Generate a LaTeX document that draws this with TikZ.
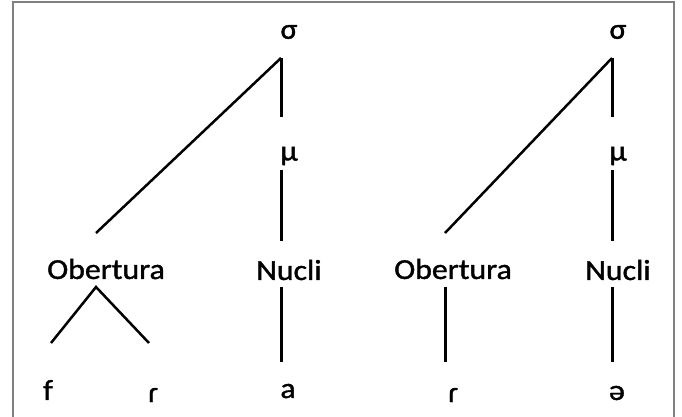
\documentclass[tikz,border=0pt]{standalone}
\usepackage{fontspec}
\setmainfont{Carlito}[FakeStretch=1.1,FakeBold=1.3]
\begin{document}
\begin{tikzpicture}[x=1bp,y=-1bp,
  lbl/.style={inner sep=0pt,font=\fontsize{29}{32}\selectfont},
  br/.style={line width=3bp,line cap=butt},
  dg/.style={line width=2.5bp,line cap=butt}]
\useasboundingbox (0,0) rectangle (682,416);
\draw[line width=1.2bp,color=gray] (13,420) -- (13,2) -- (674,2) -- (674,420);
% tree 1
\node[lbl] (s1) at (289,32) {σ};
\node[lbl] (m1) at (289,156) {μ};
\node[lbl] (o1) at (106,269) {Obertura};
\node[lbl] (n1) at (289,270) {Nucli};
\node[lbl] (f1) at (48,390) {f};
\node[lbl] (r1) at (153,395) {ɾ};
\node[lbl] (a1) at (288,391) {a};
\coordinate (s1t) at (281,58);
\coordinate (s1b) at (281,117);
\coordinate (o1t) at (96,233);
\coordinate (m1b) at (281,170);
\coordinate (n1t) at (281,241);
\coordinate (o1b) at (96,287);
\coordinate (f1t) at (51,343);
\coordinate (r1t) at (149,343);
\coordinate (n1b) at (281,287);
\coordinate (a1t) at (281,362);
\draw[br] (s1t) -- (s1b);
\draw[dg] (s1t) -- (o1t);
\draw[br] (m1b) -- (n1t);
\draw[dg] (f1t) -- (o1b) -- (r1t);
\draw[br] (n1b) -- (a1t);
% tree 2
\node[lbl] (s2) at (618,32) {σ};
\node[lbl] (m2) at (618,156) {μ};
\node[lbl] (o2) at (453,269) {Obertura};
\node[lbl] (n2) at (618,270) {Nucli};
\node[lbl] (r2) at (453,395) {ɾ};
\node[lbl] (e2) at (617,393) {ə};
\coordinate (s2t) at (612,58);
\coordinate (s2b) at (612,117);
\coordinate (o2t) at (445,233);
\coordinate (m2b) at (612,170);
\coordinate (n2t) at (612,241);
\coordinate (o2b) at (445,287);
\coordinate (r2t) at (445,362);
\coordinate (n2b) at (612,287);
\coordinate (e2t) at (612,362);
\draw[br] (s2t) -- (s2b);
\draw[dg] (s2t) -- (o2t);
\draw[br] (m2b) -- (n2t);
\draw[br] (o2b) -- (r2t);
\draw[br] (n2b) -- (e2t);
\end{tikzpicture}
\end{document}
